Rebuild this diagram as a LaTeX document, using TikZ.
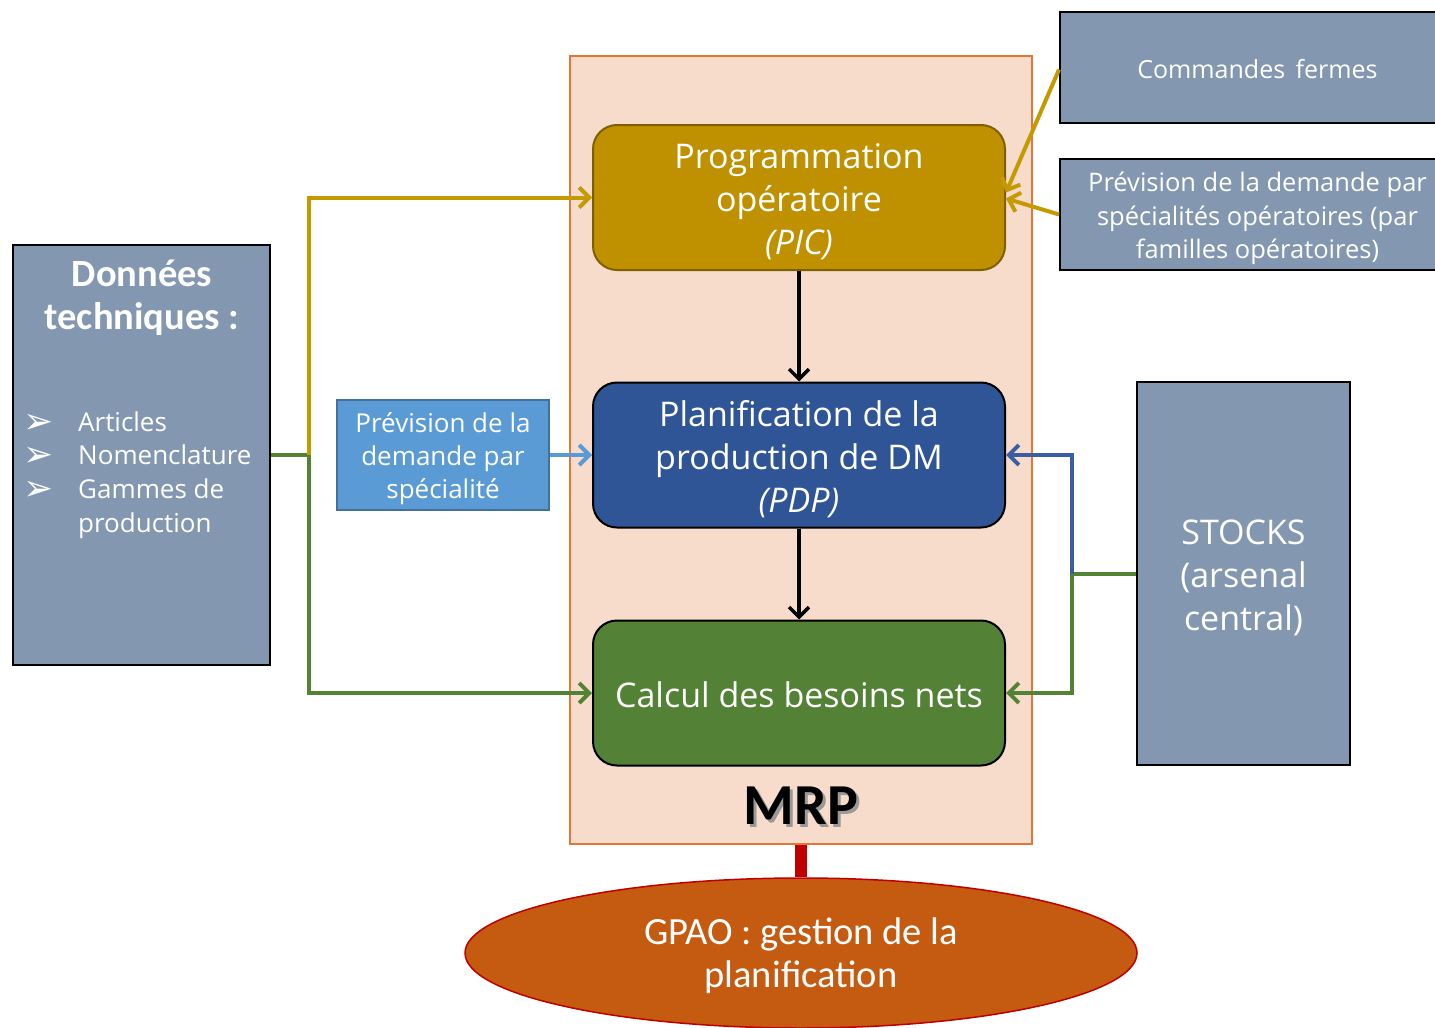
\documentclass[tikz,border=0pt]{standalone}
\usepackage{fontspec}
\setmainfont{Open Sans}
\newfontfamily\calib{Carlito}
\newfontfamily\dingfont{DejaVu Sans}
\usetikzlibrary{arrows.meta,shapes.geometric}

\definecolor{slate}{HTML}{8497B0}
\definecolor{mrpfill}{HTML}{F8DCCB}
\definecolor{mrpline}{HTML}{E2773A}
\definecolor{goldfill}{HTML}{BF9000}
\definecolor{goldline}{HTML}{7F6000}
\definecolor{goldarrow}{HTML}{C49A00}
\definecolor{navyfill}{HTML}{2F5597}
\definecolor{navyarrow}{HTML}{3A5FA0}
\definecolor{greenfill}{HTML}{538135}
\definecolor{greenarrow}{HTML}{548235}
\definecolor{skyfill}{HTML}{5B9BD5}
\definecolor{skyline}{HTML}{41719C}
\definecolor{gpaofill}{HTML}{C55A11}
\definecolor{redline}{HTML}{C00000}

\newcommand{\fs}[2]{\fontsize{#1}{#2}\selectfont}
\newcommand{\bul}{\llap{\dingfont\fs{36}{33.7}\raisebox{-2pt}{➢}\hspace{25pt}}}

\begin{document}
\begin{tikzpicture}[x=1pt,y=-1pt,
  slatebox/.style={draw=black,line width=2,fill=slate,inner sep=0},
  stage/.style={rounded corners=24,line width=2,minimum width=412,minimum height=145,inner sep=0},
  lbl/.style={text=white,align=center,inner sep=0,yshift=-4},
  flow/.style={line width=4,-{Straight Barb[length=10,width=20,line width=4]}},
  feed/.style={line width=4},
  vert/.style={line width=3.5,draw=black,-{Straight Barb[length=10,width=20,line width=3.5]}}]
\useasboundingbox (0,0) rectangle (1435,1028);

% MRP container
\node[draw=mrpline,line width=1.5,fill=mrpfill,minimum width=462,minimum height=788,inner sep=0]
  (mrp) at (801,450) {};

% planning stages
\node[stage,draw=goldline,fill=goldfill] (pic) at (799,197.5) {};
\node[stage,draw=black,fill=navyfill] (pdp) at (799,455) {};
\node[stage,draw=black,fill=greenfill] (calc) at (799,693) {};
\node[lbl,font=\fs{34}{43}] (piclbl) at (pic.center)
  {Programmation\\opératoire\\\textit{(PIC)}};
\node[lbl,font=\fs{34}{43}] (pdplbl) at (pdp.center)
  {Planification de la\\production de DM\\\textit{(PDP)}};
\node[lbl,font=\fs{34}{43},yshift=2] (calclbl) at (calc.center)
  {Calcul des besoins nets};

% MRP label with soft shadow
\node[text=black!40,font=\calib\bfseries\fs{58}{60}] (mrpshadow) at (804,809) {MRP};
\node[font=\calib\bfseries\fs{58}{60}] (mrplabel) at (801,806) {MRP};

% technical data
\node[slatebox,minimum width=257,minimum height=420] (tech) at (141.5,455) {};
\node[text=white,align=center,inner sep=0,font=\calib\bfseries\fs{38.5}{43}] (techtitle) at (142,298)
  {Données\\techniques :};
\node[text=white,align=left,anchor=west,inner sep=0,font=\fs{26}{33.7}] (techlist) at (78,475)
  {\bul Articles\\
   \bul Nomenclature\\
   \bul Gammes de\\
   production};

% demand inputs
\node[slatebox,minimum width=395,minimum height=111] (cmd) at (1257.5,67.5) {};
\node[lbl,font=\fs{25}{33},yshift=2] (cmdlbl) at (cmd.center) {Commandes\hspace{4pt} fermes};
\node[slatebox,minimum width=395,minimum height=111] (prev) at (1257.5,214.5) {};
\node[lbl,font=\fs{25.5}{33.5}] (prevlbl) at (prev.center)
  {Prévision de la demande par\\spécialités opératoires (par\\familles opératoires)};
\node[draw=skyline,line width=1.5,fill=skyfill,minimum width=212,minimum height=110,inner sep=0]
  (spec) at (443,455) {};
\node[lbl,font=\fs{26}{33}] (speclbl) at (spec.center)
  {Prévision de la\\demande par\\spécialité};

% stocks
\node[slatebox,minimum width=213,minimum height=383] (stk) at (1243.5,573.5) {};
\node[lbl,font=\fs{34}{43}] (stklbl) at (stk.center) {STOCKS\\(arsenal\\central)};

% GPAO
\node[ellipse,draw=redline,line width=1.5,fill=gpaofill,minimum width=672,minimum height=150,
  inner sep=0] (gpao) at (801,953) {};
\node[lbl,font=\calib\fs{38.5}{43},yshift=1] (gpaolbl) at (gpao.center)
  {GPAO : gestion de la\\planification};

% connectors
\draw[line width=12,draw=redline] (mrp.south) -- (gpao.north);

\draw[vert] (pic.south) -- (pdp.north);
\draw[vert] (pdp.south) -- (calc.north);

\coordinate (techsplit) at ([xshift=38]tech.east);
\draw[feed,draw=greenarrow] (tech.east) -- (techsplit);
\draw[flow,draw=goldarrow] (techsplit) |- (pic.west);
\draw[flow,draw=greenarrow] (techsplit) |- (calc.west);

\draw[flow,draw=skyfill] (spec.east) -- (pdp.west);

\draw[flow,draw=goldarrow] ([yshift=-2]cmd.west) -- ([yshift=5]pic.east);
\draw[flow,draw=goldarrow] (prev.west) -- ([yshift=-1]pic.east);

\coordinate (stksplit) at ([xshift=-64]stk.west);
\draw[feed,draw=greenarrow] (stk.west) -- (stksplit);
\draw[flow,draw=navyarrow] (stksplit) |- (pdp.east);
\draw[flow,draw=greenarrow] (stksplit) |- (calc.east);
\end{tikzpicture}
\end{document}
